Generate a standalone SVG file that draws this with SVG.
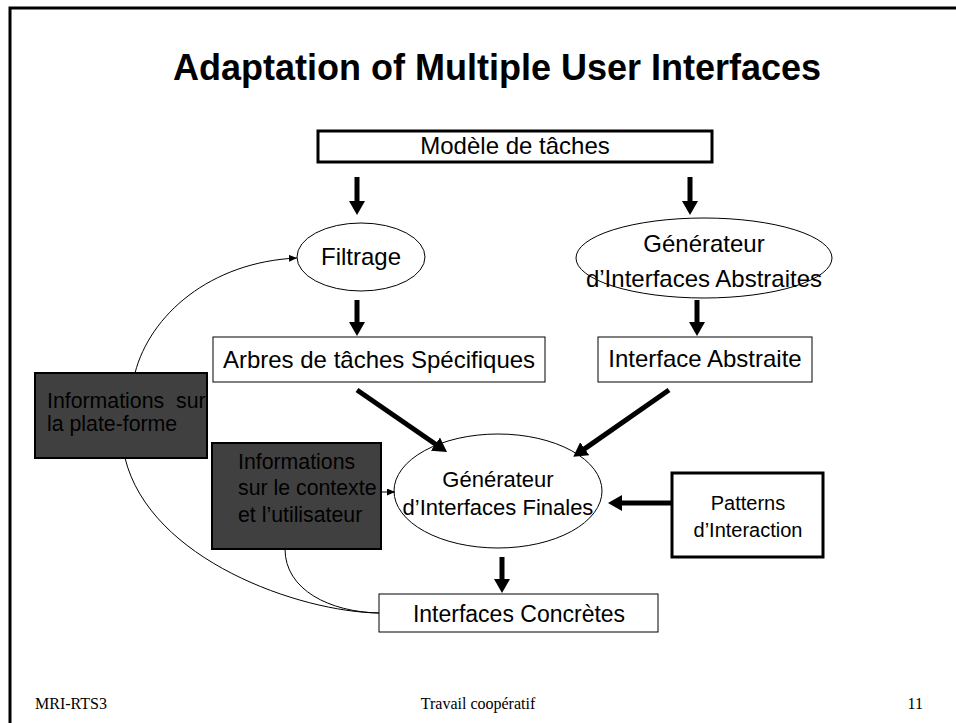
<svg xmlns="http://www.w3.org/2000/svg" width="956" height="723" viewBox="0 0 956 723">
<defs>
<marker id="big" viewBox="0 0 14 16" refX="2" refY="8" markerWidth="14" markerHeight="16" markerUnits="userSpaceOnUse" orient="auto"><path d="M0,0 L14,8 L0,16 z" fill="#000"/></marker>
<marker id="small" viewBox="0 0 8 7" refX="8" refY="3.5" markerWidth="8" markerHeight="7" markerUnits="userSpaceOnUse" orient="auto"><path d="M0,0 L8,3.5 L0,7 z" fill="#000"/></marker>
<style>
.t{font-family:"Liberation Sans",Arial,sans-serif;font-size:24px;fill:#000}
.c{text-anchor:middle}
.s22{font-size:22px}
.s23{font-size:23px}
.s21{font-size:21.3px}
.s20{font-size:20px}
.box{fill:#fff;stroke:#000;stroke-width:1}
.boxb{fill:#fff;stroke:#000;stroke-width:3}
.dark{fill:#404040;stroke:#000;stroke-width:2}
.ell{fill:#fff;stroke:#000;stroke-width:1}
.thick{stroke:#000;stroke-width:5;fill:none;marker-end:url(#big)}
.thin{stroke:#000;stroke-width:1;fill:none}
.foot{font-family:"Liberation Serif","Times New Roman",serif;font-size:16px;fill:#000}
</style>
</defs>
<rect x="10" y="8" width="970" height="740" fill="none" stroke="#000" stroke-width="3"/>
<text x="497" y="80" class="c" style="font-family:'Liberation Sans',Arial,sans-serif;font-size:36px;font-weight:bold">Adaptation of Multiple User Interfaces</text>

<g id="modele"><rect x="318" y="131" width="394" height="31" class="boxb"/><text x="515" y="154" class="t c">Modèle de tâches</text></g>
<g id="filtrage"><ellipse cx="361" cy="257" rx="64" ry="34" class="ell"/><text x="361" y="265" class="t c">Filtrage</text></g>
<g id="genabs"><ellipse cx="704" cy="258" rx="128" ry="40" class="ell"/><text x="704" y="252" class="t c">Générateur</text><text x="704" y="287" class="t c">d’Interfaces Abstraites</text></g>
<g id="arbres"><rect x="213" y="337" width="332" height="45" class="box"/><text x="379" y="368" class="t c">Arbres de tâches Spécifiques</text></g>
<g id="intabs"><rect x="598" y="337" width="214" height="45" class="box"/><text x="705" y="367" class="t c">Interface Abstraite</text></g>
<g id="plateforme"><rect x="35" y="373" width="172" height="85" class="dark"/><text x="47" y="408" class="t s21" xml:space="preserve">Informations  sur</text><text x="47" y="431" class="t s21">la plate-forme</text></g>
<g id="contexte"><rect x="212" y="443" width="169" height="106" class="dark"/><text x="238" y="469" class="t s21">Informations</text><text x="238" y="495" class="t s21">sur le contexte</text><text x="238" y="522" class="t s21">et l’utilisateur</text></g>
<g id="genfin"><ellipse cx="498" cy="491" rx="104" ry="57" class="ell"/><text x="498" y="487" class="t c s22">Générateur</text><text x="498" y="515" class="t c s22">d’Interfaces Finales</text></g>
<g id="patterns"><rect x="672" y="473" width="151" height="84" class="boxb"/><text x="748" y="510" class="t c s20">Patterns</text><text x="748" y="537" class="t c s20">d’Interaction</text></g>
<g id="concretes"><rect x="379" y="594" width="279" height="38" class="box"/><text x="519" y="622" class="t c s23">Interfaces Concrètes</text></g>

<g id="connectors">
<line x1="357" y1="177" x2="357" y2="203" class="thick"/>
<line x1="690" y1="177" x2="690" y2="203" class="thick"/>
<line x1="357" y1="300" x2="357" y2="324" class="thick"/>
<line x1="697" y1="300" x2="697" y2="324" class="thick"/>
<line x1="357" y1="390" x2="437.1" y2="445.2" class="thick"/>
<line x1="669" y1="390" x2="583.1" y2="449.9" class="thick"/>
<line x1="672" y1="503" x2="620" y2="503" class="thick"/>
<line x1="502" y1="557" x2="502" y2="581" class="thick"/>
<path d="M135,373 C150,315 210,262 297,258" class="thin" marker-end="url(#small)"/>
<path d="M381,492 L395,492" class="thin" marker-end="url(#small)"/>
<path d="M125,458 C150,560 300,612 379,613" class="thin"/>
<path d="M285,549 C285,590 330,612 379,613" class="thin"/>
</g>

<text x="35" y="709" class="foot">MRI-RTS3</text>
<text x="478" y="709" class="foot c">Travail coopératif</text>
<text x="923" y="709" class="foot" text-anchor="end">11</text>
</svg>
